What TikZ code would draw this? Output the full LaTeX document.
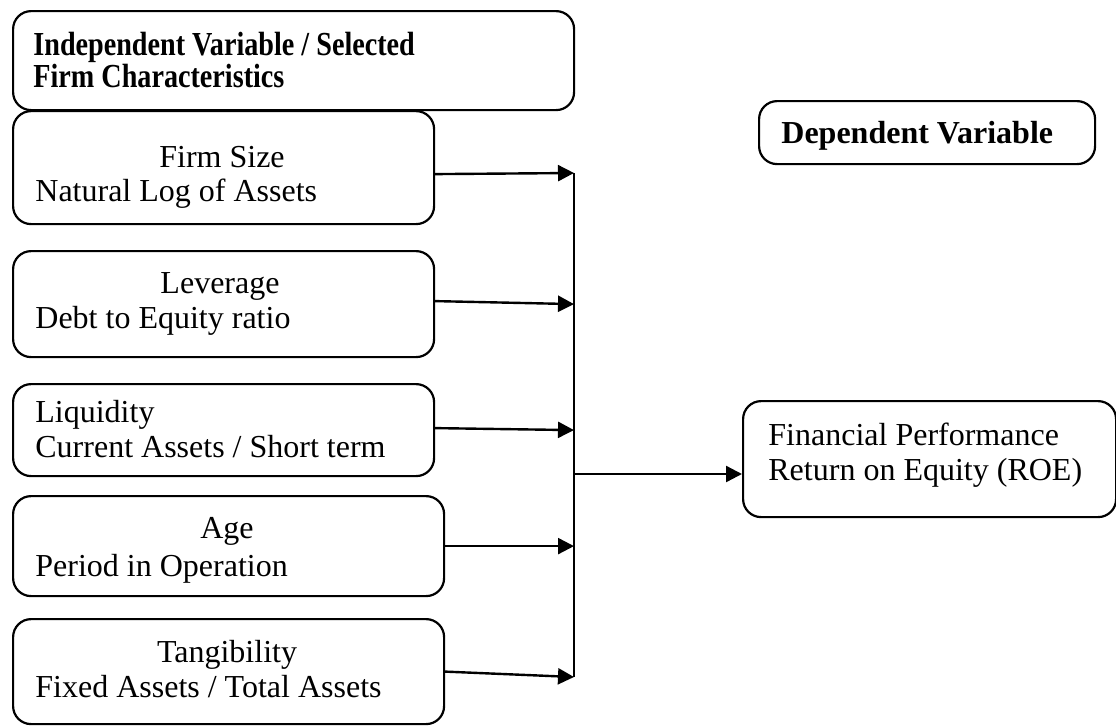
\documentclass[tikz,border=0pt]{standalone}
\usepackage{fontspec}
\setmainfont{Liberation Serif}
\usetikzlibrary{arrows.meta}
\begin{document}
\begin{tikzpicture}[x=0.5pt,y=-0.5pt,
  box/.style={draw, line width=1.1pt, rounded corners=9pt, inner sep=0pt, anchor=north west},
  txt/.style={inner sep=0pt, font=\fontsize{16}{19}\selectfont},
  headtxt/.style={inner sep=0pt, font=\fontsize{16}{19}\selectfont\bfseries},
  arr/.style={line width=1.2pt, -{Triangle[length=8pt,width=8pt]}},
  vline/.style={line width=1.2pt}
]
\useasboundingbox (0,0) rectangle (1116,725);

% boxes
\node[box, minimum width=280.5pt, minimum height=49.5pt] (hd) at (12,10) {};
\node[box, minimum width=210.5pt, minimum height=56.5pt] (fs) at (12,110) {};
\node[box, minimum width=210.5pt, minimum height=53pt] (lv) at (12,250) {};
\node[box, minimum width=210.5pt, minimum height=46pt] (lq) at (12,383) {};
\node[box, minimum width=215.5pt, minimum height=50pt] (ag) at (12,495) {};
\node[box, minimum width=215.5pt, minimum height=52.5pt] (tg) at (12,618) {};
\node[box, minimum width=168pt, minimum height=31.5pt] (dv) at (758,100) {};
\node[box, minimum width=186.5pt, minimum height=58pt] (roe) at (742,400) {};

% texts
\node[headtxt, anchor=base west] (hd1) at (33,55) {\scalebox{0.88}[1.05]{Independent Variable / Selected}};
\node[headtxt, anchor=base west] (hd2) at (33,87) {\scalebox{0.88}[1.05]{Firm Characteristics}};
\node[txt, anchor=base] (fs1) at (222,167) {Firm Size};
\node[txt, anchor=base west] (fs2) at (35,201) {Natural Log of Assets};
\node[txt, anchor=base] (lv1) at (220,293) {Leverage};
\node[txt, anchor=base west] (lv2) at (35,328) {Debt to Equity ratio};
\node[txt, anchor=base west] (lq1) at (35,422) {Liquidity};
\node[txt, anchor=base west] (lq2) at (35,457) {Current Assets / Short term};
\node[txt, anchor=base] (ag1) at (227,538) {Age};
\node[txt, anchor=base west] (ag2) at (35,576) {Period in Operation};
\node[txt, anchor=base] (tg1) at (227,662) {Tangibility};
\node[txt, anchor=base west] (tg2) at (35,697) {Fixed Assets / Total Assets};
\node[headtxt, anchor=base west] (dv1) at (781,143) {Dependent Variable};
\node[txt, anchor=base west] (roe1) at (768,445) {Financial Performance};
\node[txt, anchor=base west] (roe2) at (768,480) {Return on Equity (ROE)};

% connectors
\coordinate (vtop) at (574,173);
\coordinate (vbot) at (574,677);
\coordinate (vmid) at (574,474);
\draw[vline] (vtop) -- (vbot);
\draw[arr] ([yshift=-3.25pt]fs.east) -- (vtop);
\draw[arr] ([yshift=1.5pt]lv.east) -- (lv.east -| vtop);
\draw[arr] ([yshift=1pt]lq.east) -- (lq.east -| vtop);
\draw[arr] (ag.east) -- (ag.east -| vtop);
\draw[arr] (tg.east) -- (vbot);
\draw[arr] (vmid) -- (vmid -| roe.west);
\end{tikzpicture}
\end{document}
